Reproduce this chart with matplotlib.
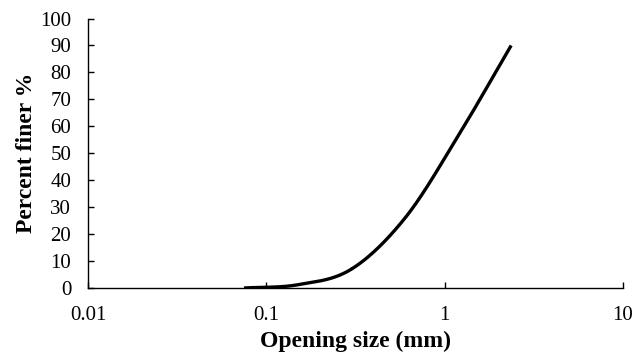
import matplotlib
matplotlib.use('Agg')
import matplotlib.pyplot as plt
from matplotlib.ticker import FixedLocator, FixedFormatter, NullLocator
import numpy as np

# sieve opening sizes (mm) and percent passing
opening = [0.075, 0.15, 0.3, 0.6, 1.18, 2.36]
finer = [0, 1.2, 7, 26, 56, 90]

xticks = [0.01, 0.1, 1, 10]
xtick_labels = ['0.01', '0.1', '1', '10']
yticks = list(range(0, 101, 10))


def smooth_curve(xs, ys, n=40):
    # catmull-rom through the points, in log-x space (like a smoothed Excel line)
    lx = np.log10(xs)
    y = np.array(ys, dtype=float)
    px = np.concatenate([[2 * lx[0] - lx[1]], lx, [2 * lx[-1] - lx[-2]]])
    py = np.concatenate([[2 * y[0] - y[1]], y, [2 * y[-1] - y[-2]]])
    out_x, out_y = [], []
    t = np.linspace(0, 1, n)
    for i in range(1, len(px) - 2):
        for arr, out in ((px, out_x), (py, out_y)):
            p0, p1, p2, p3 = arr[i - 1], arr[i], arr[i + 1], arr[i + 2]
            seg = 0.5 * ((2 * p1) + (-p0 + p2) * t +
                         (2 * p0 - 5 * p1 + 4 * p2 - p3) * t ** 2 +
                         (-p0 + 3 * p1 - 3 * p2 + p3) * t ** 3)
            out.extend(seg)
    return 10 ** np.array(out_x), np.clip(np.array(out_y), 0, None)


plt.rcParams['font.family'] = 'Liberation Serif'

fig = plt.figure(figsize=(6.44, 3.6), dpi=100)
ax = fig.add_axes([0.1366, 0.2, 0.8308, 0.7486])

sx, sy = smooth_curve(opening, finer)
ax.plot(sx, sy, color='black', lw=2.4, solid_capstyle='butt')

ax.set_xscale('log')
ax.set_xlim(0.01, 10)
ax.set_ylim(0, 100)
ax.xaxis.set_major_locator(FixedLocator(xticks))
ax.xaxis.set_major_formatter(FixedFormatter(xtick_labels))
ax.xaxis.set_minor_locator(NullLocator())
ax.set_yticks(yticks)

for s in ['top', 'right']:
    ax.spines[s].set_visible(False)
for s in ['left', 'bottom']:
    ax.spines[s].set_linewidth(1.0)
    ax.spines[s].set_color('black')

ax.tick_params(direction='in', length=4, width=1, labelsize=15, colors='black')
ax.tick_params(axis='x', pad=13)
ax.tick_params(axis='y', pad=12)

ax.set_xlabel('Opening size (mm)', fontsize=17, fontweight='bold', labelpad=4)
ax.set_ylabel('Percent finer %', fontsize=17, fontweight='bold', labelpad=2)

fig.savefig('out.png', dpi=100)
